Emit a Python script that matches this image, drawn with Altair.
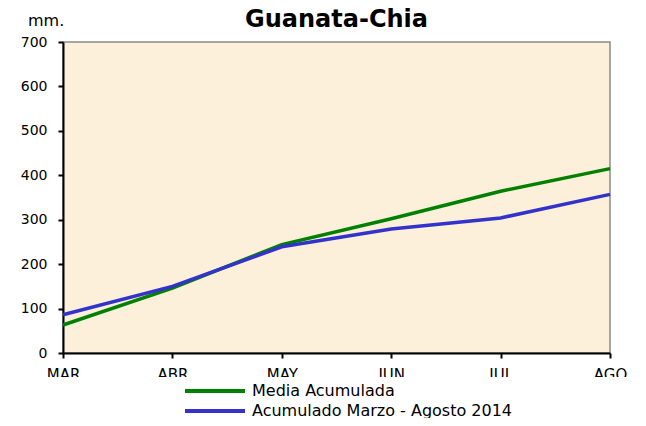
import altair as alt
import pandas as pd

months = ["MAR", "ABR", "MAY", "JUN", "JUL", "AGO"]
media = [63, 146, 244, 302, 364, 415]
acumulado = [86, 150, 239, 279, 304, 357]
series_names = ["Media Acumulada", "Acumulado  Marzo - Agosto  2014"]
series_colors = ["#008000", "#3333CC"]
unit_label = ["mm."]

rows = []
for m, v in zip(months, media):
    rows.append({"mes": m, "mm": v, "serie": series_names[0]})
for m, v in zip(months, acumulado):
    rows.append({"mes": m, "mm": v, "serie": series_names[1]})
df = pd.DataFrame(rows)

FONT = "DejaVu Sans"

lines = alt.Chart(df).mark_line(strokeWidth=3.5).encode(
    x=alt.X("mes:N", sort=months, scale=alt.Scale(type="point", padding=0),
            axis=alt.Axis(title=None, labelAngle=0, labelFont=FONT, labelFontSize=15,
                          labelColor="black", domainColor="black", domainWidth=2,
                          tickColor="black", tickWidth=2, tickSize=5, labelPadding=9)),
    y=alt.Y("mm:Q", scale=alt.Scale(domain=[0, 700], nice=False),
            axis=alt.Axis(values=[0, 100, 200, 300, 400, 500, 600, 700], grid=False,
                          title=None,
                          labelFont=FONT, labelFontSize=14, labelColor="black",
                          domainColor="black", domainWidth=2, tickColor="black",
                          tickWidth=2, tickSize=5, labelPadding=11)),
    color=alt.Color("serie:N", sort=series_names,
                    scale=alt.Scale(domain=series_names, range=series_colors),
                    legend=alt.Legend(title=None, orient="none", legendX=160, legendY=337,
                                      symbolType="M-5,0H1", symbolSize=400,
                                      symbolStrokeWidth=4, labelFont=FONT,
                                      labelFontSize=16, labelColor="black", labelLimit=500,
                                      labelOffset=5, rowPadding=0, padding=0)),
)

unit = alt.Chart(pd.DataFrame({"t": unit_label})).mark_text(
    font=FONT, fontSize=16, color="black", align="left", baseline="alphabetic"
).encode(text="t:N", x=alt.value(-35), y=alt.value(-16))

cover = alt.Chart(pd.DataFrame({"k": [0]})).mark_rect(color="white").encode(
    x=alt.value(-60), x2=alt.value(575), y=alt.value(335), y2=alt.value(344)
)

chart = alt.layer(lines, cover, unit).properties(
    width=547, height=311,
    title=alt.TitleParams("Guanata-Chia", font=FONT, fontSize=24, fontWeight="bold",
                          color="black", anchor="middle", offset=-19, frame="group"),
    autosize=alt.AutoSizeParams(type="none"),
    padding={"left": 55, "top": 34, "right": 28, "bottom": 65},
    background="white",
).configure_view(fill="#FCF0DA", stroke="#8a8a8a", strokeWidth=1.5)

chart.save("out.html", embed_options={"renderer": "svg", "actions": False})
